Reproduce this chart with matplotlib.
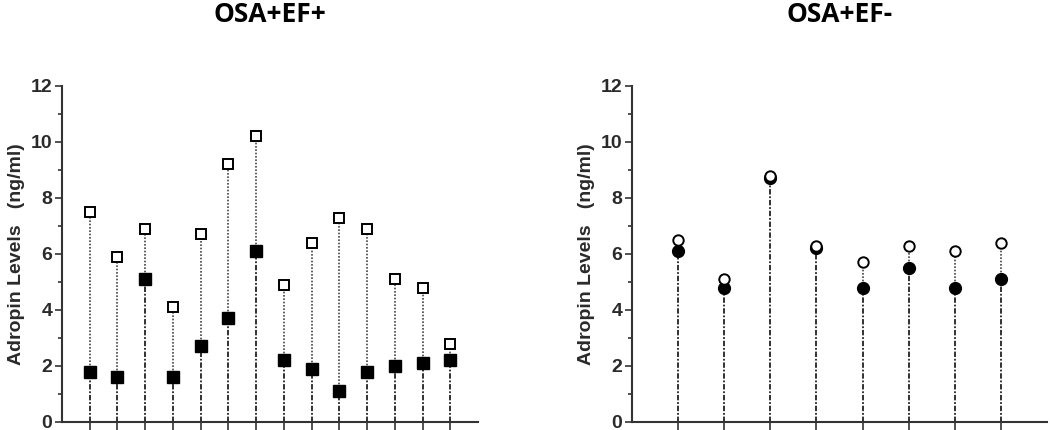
import matplotlib
matplotlib.use("Agg")
import matplotlib.pyplot as plt
from matplotlib.ticker import MultipleLocator

# ---- data ----
left_title = "OSA+EF+"
right_title = "OSA+EF-"
ylabel = "Adropin Levels   (ng/ml)"

left_open = [7.5, 5.9, 6.9, 4.1, 6.7, 9.2, 10.2, 4.9, 6.4, 7.3, 6.9, 5.1, 4.8, 2.8]
left_filled = [1.8, 1.6, 5.1, 1.6, 2.7, 3.7, 6.1, 2.2, 1.9, 1.1, 1.8, 2.0, 2.1, 2.2]

right_open = [6.5, 5.1, 8.8, 6.3, 5.7, 6.3, 6.1, 6.4]
right_filled = [6.1, 4.8, 8.7, 6.2, 4.8, 5.5, 4.8, 5.1]

yticks = [0, 2, 4, 6, 8, 10, 12]

plt.rcParams['font.family'] = ['Liberation Sans', 'DejaVu Sans']

fig = plt.figure(figsize=(10.5, 4.3), dpi=100)
ax1 = fig.add_axes([62/1050, 1-422/430, (478-62)/1050, (422-86)/430])
ax2 = fig.add_axes([632/1050, 1-422/430, (1047-632)/1050, (422-86)/430])


def draw(ax, opens, filled, marker, title):
    n = len(opens)
    xs = list(range(1, n + 1))
    for x, o, f in zip(xs, opens, filled):
        ax.plot([x, x], [0, f], color='#222222', lw=1.3,
                linestyle=(0, (3, 1, 1, 1)), zorder=1)
        ax.plot([x, x], [f, max(o, f)], color='#444444', lw=1.2,
                linestyle=(0, (1, 1)), zorder=1)
    ax.plot(xs, filled, linestyle='none', marker=marker, markersize=8.5,
            markerfacecolor='black', markeredgecolor='black', zorder=3)
    ax.plot(xs, opens, linestyle='none', marker=marker, markersize=7.5,
            markerfacecolor='white', markeredgecolor='black',
            markeredgewidth=1.4, zorder=4)
    ax.set_xlim(0, n + 1)
    ax.set_ylim(0, 12)
    ax.set_xticks(xs)
    ax.set_xticklabels([])
    ax.set_yticks(yticks)
    ax.set_yticklabels([str(t) for t in yticks], fontweight='bold', fontsize=14,
                       color='#2a2a2a')
    ax.yaxis.set_minor_locator(MultipleLocator(1))
    ax.tick_params(axis='y', which='major', length=5, width=1.2, color='#333333', pad=2)
    ax.tick_params(axis='y', which='minor', length=3, width=1.2, color='#333333')
    ax.tick_params(axis='x', which='major', length=6, width=1.2, color='#333333')
    for s in ['top', 'right']:
        ax.spines[s].set_visible(False)
    for s in ['left', 'bottom']:
        ax.spines[s].set_linewidth(1.5)
        ax.spines[s].set_color('#333333')
    ax.set_ylabel(ylabel, fontweight='bold', fontsize=14, color='#2a2a2a', labelpad=4)
    ax.set_title(title, fontfamily=['Open Sans', 'DejaVu Sans'], fontweight='bold',
                 fontsize=19, pad=46)


draw(ax1, left_open, left_filled, 's', left_title)
draw(ax2, right_open, right_filled, 'o', right_title)

fig.savefig("out.png", dpi=100)
